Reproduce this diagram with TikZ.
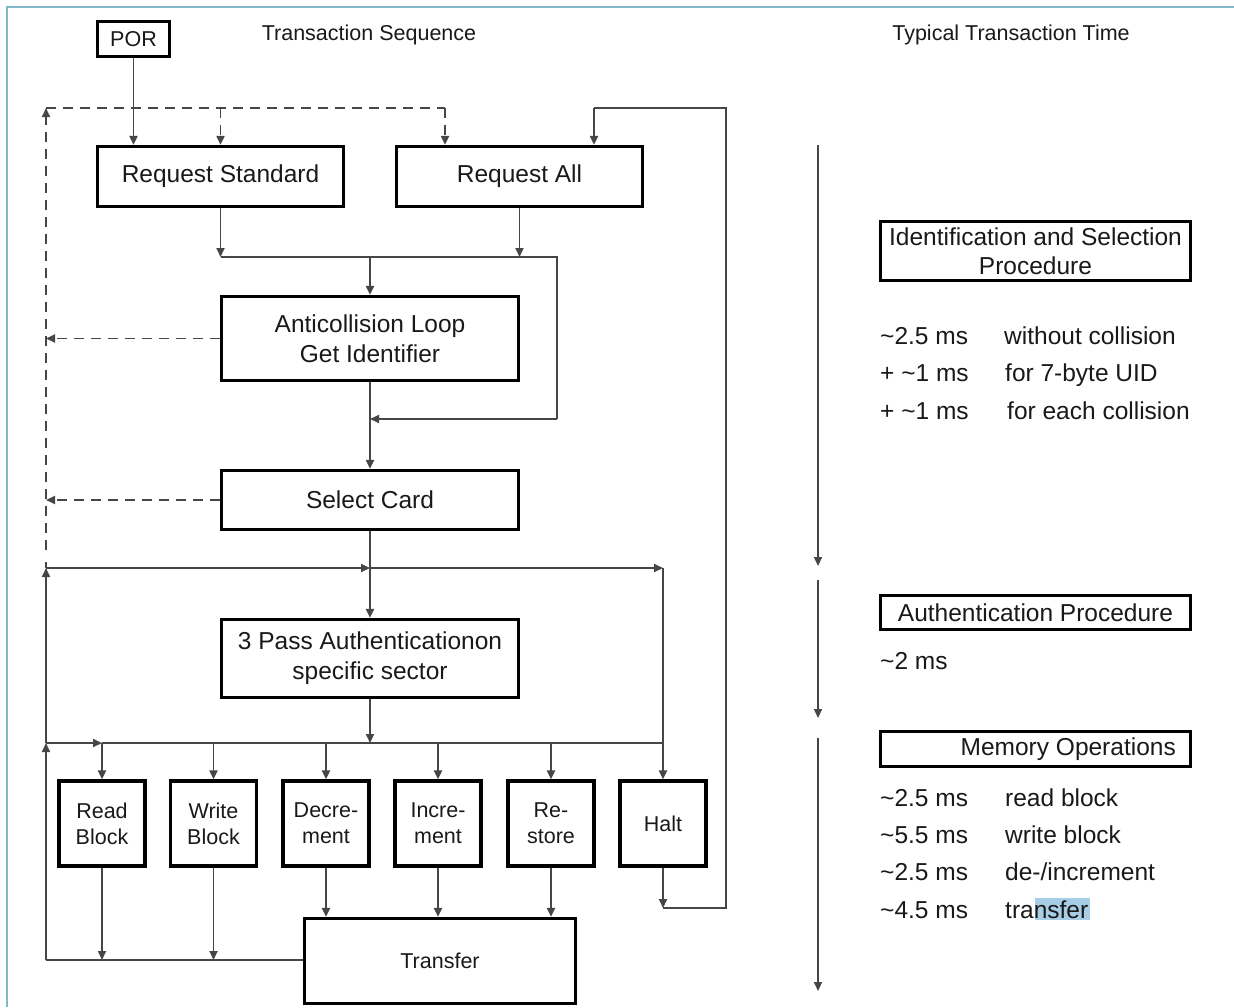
\documentclass[tikz,border=0pt]{standalone}
\usepackage{fontspec}
\setmainfont{Liberation Sans}
\usetikzlibrary{arrows.meta}
\definecolor{framec}{RGB}{130,185,200}
\definecolor{hl}{RGB}{168,205,230}
\definecolor{linec}{RGB}{70,70,70}
\begin{document}
\begin{tikzpicture}[x=1pt,y=-1pt,
  box/.style={draw=black,line width=3.2pt,rectangle,inner sep=0pt,align=center,
    text=black!90,font=\fontsize{24.5}{30}\selectfont},
  sbox/.style={box,font=\fontsize{21.5}{26}\selectfont},
  opbox/.style={sbox,minimum width=86,minimum height=85},
  conn/.style={draw=linec,line width=1.9pt},
  arr/.style={conn,-{Triangle[length=9pt,width=8pt]}},
  dsh/.style={conn,dash pattern=on 10pt off 7pt},
  darr/.style={dsh,-{Triangle[length=9pt,width=8pt]}},
  txt/.style={inner sep=0pt,anchor=base west,text=black!90,font=\fontsize{24.5}{28}\selectfont},
  hdr/.style={inner sep=0pt,text=black!90,font=\fontsize{21.5}{26}\selectfont}
]
\useasboundingbox (0,0) rectangle (1234,1007);
\draw[framec,line width=1.5pt] (7,1007) -- (7,7) -- (1234,7);

% headers
\node[hdr] (h1) at (369,35) {Transaction Sequence};
\node[hdr] (h2) at (1011,35) {Typical Transaction Time};

% left flow boxes
\node[sbox,minimum width=72,minimum height=35] (por) at (133.5,39) {POR};
\node[box,minimum width=246,minimum height=60] (rs) at (220.5,176.5) {Request Standard};
\node[box,minimum width=246,minimum height=60] (ra) at (519.5,176.5) {Request All};
\node[box,minimum width=297,minimum height=84] (ac) at (370,338.5) {Anticollision Loop\\Get Identifier};
\node[box,minimum width=297,minimum height=59] (sc) at (370,500) {Select Card};
\node[box,minimum width=297,minimum height=78] (au) at (370,658.5) {3 Pass Authenticationon\\specific sector};
\node[opbox] (rb) at (102,823.5) {Read\\Block};
\node[opbox] (wb) at (213.5,823.5) {Write\\Block};
\node[opbox] (de) at (326,823.5) {Decre-\\ment};
\node[opbox] (in) at (438,823.5) {Incre-\\ment};
\node[opbox] (re) at (551,823.5) {Re-\\store};
\node[opbox] (ht) at (663,823.5) {Halt};
\node[sbox,minimum width=271,minimum height=85] (tr) at (440,961) {Transfer};

% junction coordinates
\coordinate (dl) at (46,108);
\coordinate (dd) at (46,550);
\coordinate (d2) at (445,108);
\coordinate (j1) at (370,257);
\coordinate (jr) at (557,257);
\coordinate (jr2) at (557,419);
\coordinate (j2) at (370,419);
\coordinate (a1) at (46,568);
\coordinate (a2) at (370,568);
\coordinate (a3) at (663,568);
\coordinate (b1) at (46,743);
\coordinate (b2) at (102,743);
\coordinate (b3) at (370,743);
\coordinate (b4) at (663,743);
\coordinate (c1) at (46,960);
\coordinate (hh) at (663,908);
\coordinate (hr) at (726,908);
\coordinate (hr2) at (726,108);
\coordinate (hr3) at (594,108);

% dashed return paths
\draw[darr] (ac.west) -- (ac.west -| dl);
\draw[darr] (sc.west) -- (sc.west -| dl);
\draw[darr] (dd) -- (dl);
\draw[dsh] (dl) -- (d2);
\draw[darr] (dl -| rs.north) -- (rs.north);
\draw[darr] (d2) -- (d2 |- ra.north);

% solid connectors
\draw[arr] (por.south) -- (por.south |- rs.north);
\draw[arr] (rs.south) -- (rs.south |- j1);
\draw[arr] (ra.south) -- (ra.south |- j1);
\draw[conn] (rs.south |- j1) -- (jr) -- (jr2);
\draw[arr] (jr2) -- (j2);
\draw[arr] (j1) -- (ac.north);
\draw[arr] (ac.south) -- (sc.north);
\draw[arr] (sc.south) -- (au.north);
\draw[arr] (a1) -- (a2);
\draw[arr] (a2) -- (a3);
\draw[arr] (a3) -- (ht.north);
\draw[arr] (au.south) -- (b3);
\draw[arr] (b1) -- (b2);
\draw[conn] (b2) -- (b4);
\draw[arr] (b2) -- (rb.north);
\draw[arr] (b2 -| wb.north) -- (wb.north);
\draw[arr] (b2 -| de.north) -- (de.north);
\draw[arr] (b2 -| in.north) -- (in.north);
\draw[arr] (b2 -| re.north) -- (re.north);
\draw[conn] (tr.west |- c1) -- (c1);
\draw[arr] (c1) -- (b1);
\draw[arr] (b1) -- (a1);
\draw[conn] (a1) -- ++(0,-6);
\draw[arr] (rb.south) -- (rb.south |- c1);
\draw[arr] (wb.south) -- (wb.south |- c1);
\draw[arr] (de.south) -- (de.south |- tr.north);
\draw[arr] (in.south) -- (in.south |- tr.north);
\draw[arr] (re.south) -- (re.south |- tr.north);
\draw[arr] (ht.south) -- (hh);
\draw[conn] (hh) -- (hr) -- (hr2) -- (hr3);
\draw[arr] (hr3) -- (hr3 |- ra.north);

% right column
\coordinate (t1) at (818,145);
\coordinate (t2) at (818,566);
\coordinate (t3) at (818,580);
\coordinate (t4) at (818,718);
\coordinate (t5) at (818,738);
\coordinate (t6) at (818,991);
\draw[arr] (t1) -- (t2);
\draw[arr] (t3) -- (t4);
\draw[arr] (t5) -- (t6);

\node[box,minimum width=310,minimum height=59,font=\fontsize{24.5}{29}\selectfont] (isp) at (1035.5,251) {Identification and Selection\\Procedure};
\node[box,minimum width=310,minimum height=34] (ap) at (1035.5,612.5) {Authentication Procedure};
\node[box,minimum width=310,minimum height=35] (mo) at (1035.5,749) {};
\node[inner sep=0pt,anchor=east,text=black!90,font=\fontsize{24.5}{28}\selectfont] (mot) at (1176,749) {Memory Operations};

\fill[hl] (1035,898) rectangle (1090,920);

\node[txt] (r1a) at (880,344) {\textasciitilde2.5 ms};
\node[txt] (r1b) at (1004,344) {without collision};
\node[txt] (r2a) at (880,381) {+ \textasciitilde1 ms};
\node[txt] (r2b) at (1005,381) {for 7-byte UID};
\node[txt] (r3a) at (880,419) {+ \textasciitilde1 ms};
\node[txt] (r3b) at (1007,419) {for each collision};
\node[txt] (r4a) at (880,669) {\textasciitilde2 ms};
\node[txt] (m1a) at (880,806) {\textasciitilde2.5 ms};
\node[txt] (m1b) at (1005,806) {read block};
\node[txt] (m2a) at (880,843) {\textasciitilde5.5 ms};
\node[txt] (m2b) at (1005,843) {write block};
\node[txt] (m3a) at (880,880) {\textasciitilde2.5 ms};
\node[txt] (m3b) at (1005,880) {de-/increment};
\node[txt] (m4a) at (880,918) {\textasciitilde4.5 ms};
\node[txt] (m4b) at (1005,918) {transfer};
\end{tikzpicture}
\end{document}
